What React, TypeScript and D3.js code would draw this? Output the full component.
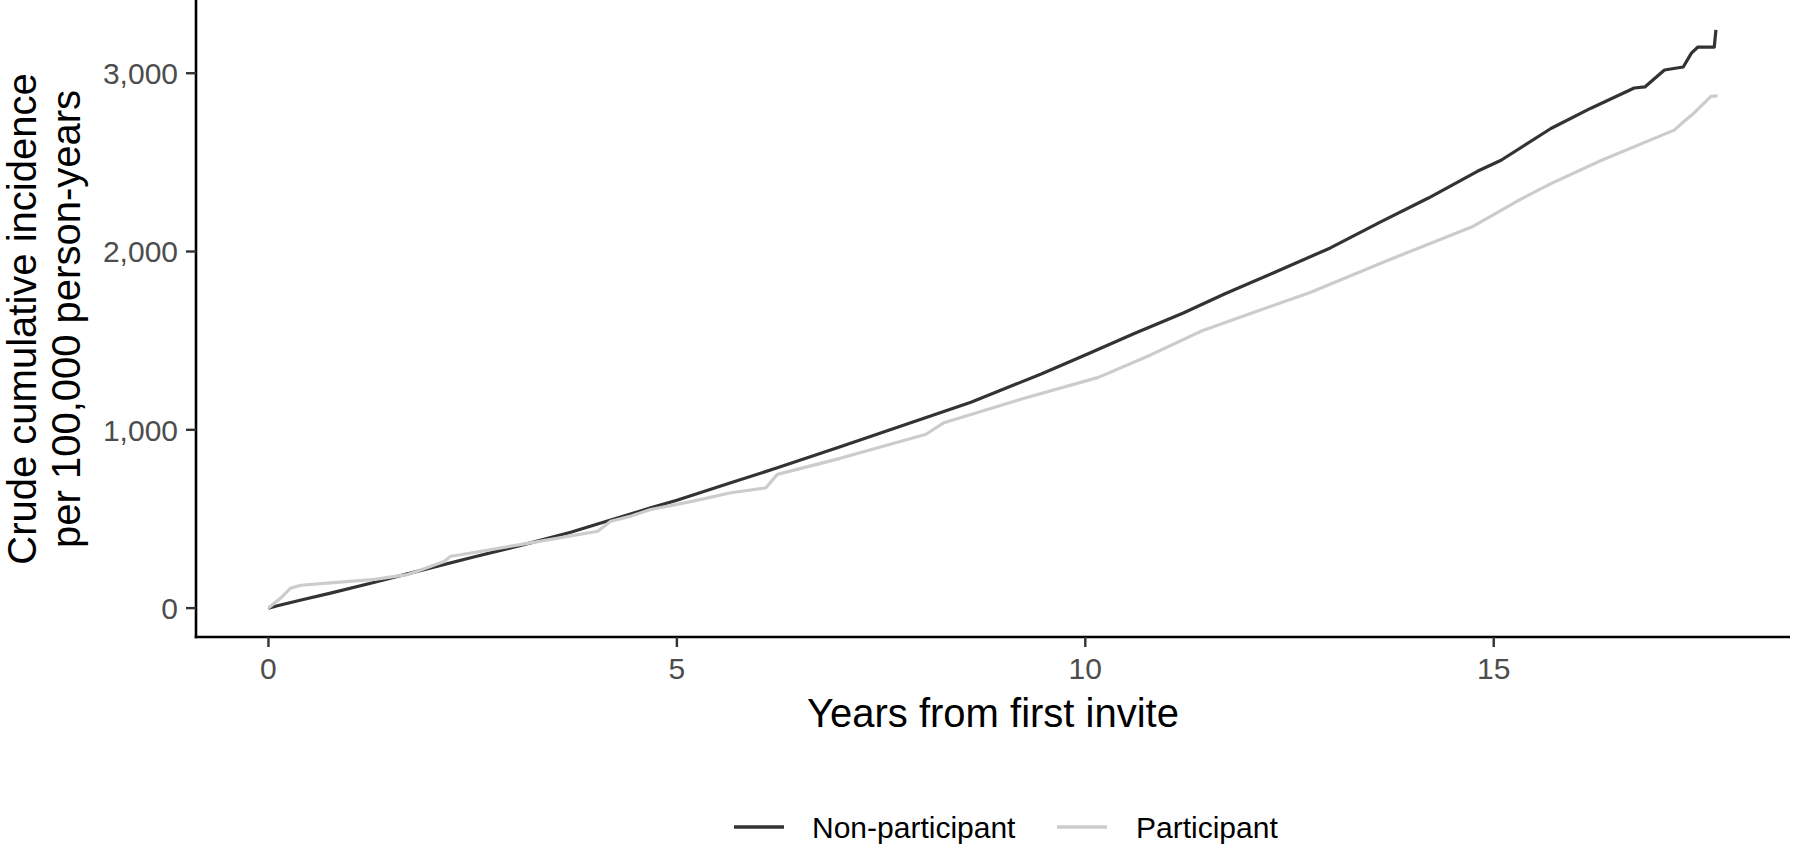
import * as d3 from "d3";

// years from first invite / crude cumulative incidence per 100,000 person-years
const nonParticipantYears = [
  0, 0.11, 0.4, 0.76, 1.3, 1.82, 2.5, 3.21, 3.7, 4.15, 4.68, 5.0, 5.66, 6.23, 7.0, 7.8, 8.6, 9.46,
  10.0, 10.6, 11.2, 11.71, 12.3, 13.0, 13.61, 14.2, 14.8, 15.09, 15.7, 16.19, 16.72, 16.85, 17.09,
  17.32, 17.42, 17.5, 17.7, 17.72,
];
const nonParticipantValues = [
  0, 13, 45, 84, 145, 206, 285, 366, 425, 488, 562, 605, 703, 787, 905, 1030, 1155, 1313, 1420,
  1540, 1655, 1763, 1880, 2020, 2165, 2300, 2450, 2512, 2690, 2804, 2917, 2923, 3018, 3035, 3113,
  3147, 3147, 3243,
];

const participantYears = [
  0, 0.15, 0.27, 0.4, 0.76, 1.3, 1.7, 1.82, 2.15, 2.23, 2.39, 3.21, 4.03, 4.19, 4.44, 4.68, 5.2,
  5.66, 6.09, 6.23, 7.0, 8.05, 8.27, 9.2, 10.16, 10.8, 11.43, 12.1, 12.76, 13.7, 14.73, 15.3, 15.7,
  16.32, 17.21, 17.32, 17.45, 17.66, 17.74,
];
const participantValues = [
  0, 56, 112, 128, 141, 161, 188, 206, 262, 291, 302, 366, 431, 487, 516, 553, 600, 647, 675, 750,
  840, 975, 1040, 1170, 1294, 1420, 1556, 1665, 1772, 1950, 2137, 2286, 2381, 2512, 2681, 2726,
  2776, 2870, 2873,
];

const seriesNames = ["Non-participant", "Participant"];
const seriesColors = ["#333333", "#CCCCCC"];
const xTicks = [0, 5, 10, 15];
const yTicks = [0, 1000, 2000, 3000];

const W = 1800;
const H = 853;
const panel = { left: 196, right: 1790, top: 1, bottom: 637 };
const font = "'Liberation Sans', Arial, Helvetica, sans-serif";

type Pt = { t: number; v: number };

const series: Pt[][] = [
  nonParticipantYears.map((t, i) => ({ t, v: nonParticipantValues[i] })),
  participantYears.map((t, i) => ({ t, v: participantValues[i] })),
];

// ggplot-style 5% expansion
const expand = (lo: number, hi: number): [number, number] => {
  const pad = (hi - lo) * 0.05;
  return [lo - pad, hi + pad];
};

export default function App() {
  const all = series.flat();
  const x = d3
    .scaleLinear()
    .domain(expand(0, d3.max(all, (d) => d.t) as number))
    .range([panel.left, panel.right]);
  const y = d3
    .scaleLinear()
    .domain(expand(0, d3.max(all, (d) => d.v) as number))
    .range([panel.bottom, panel.top]);

  const line = d3
    .line<Pt>()
    .x((d) => x(d.t))
    .y((d) => y(d.v));

  const fmt = d3.format(",");
  const midY = (panel.top + panel.bottom) / 2;
  const midX = (panel.left + panel.right) / 2;

  // legend layout
  const legend = [
    { key: 734, label: 812 },
    { key: 1057, label: 1136 },
  ];

  return (
    <svg
      width={W}
      height={H}
      style={{ position: "absolute", left: 0, top: 0, background: "#fff" }}
      fontFamily={font}
    >
      <rect width={W} height={H} fill="#fff" />

      {series.map((s, i) => (
        <path
          key={seriesNames[i]}
          d={line(s) || ""}
          fill="none"
          stroke={seriesColors[i]}
          strokeWidth={3.2}
          strokeLinejoin="round"
        />
      ))}

      {/* axes */}
      <line
        x1={panel.left}
        x2={panel.left}
        y1={0}
        y2={panel.bottom + 1.25}
        stroke="#000"
        strokeWidth={2.6}
      />
      <line
        x1={panel.left - 1.25}
        x2={panel.right}
        y1={panel.bottom}
        y2={panel.bottom}
        stroke="#000"
        strokeWidth={2.6}
      />

      {yTicks.map((t) => (
        <g key={"y" + t}>
          <line
            x1={panel.left - 10}
            x2={panel.left}
            y1={y(t)}
            y2={y(t)}
            stroke="#333"
            strokeWidth={2.4}
          />
          <text
            x={panel.left - 18}
            y={y(t)}
            dy="0.36em"
            textAnchor="end"
            fontSize={30}
            fill="#4D4D4D"
          >
            {fmt(t)}
          </text>
        </g>
      ))}

      {xTicks.map((t) => (
        <g key={"x" + t}>
          <line
            x1={x(t)}
            x2={x(t)}
            y1={panel.bottom}
            y2={panel.bottom + 10}
            stroke="#333"
            strokeWidth={2.4}
          />
          <text x={x(t)} y={679} textAnchor="middle" fontSize={30} fill="#4D4D4D">
            {t}
          </text>
        </g>
      ))}

      <text x={midX} y={727} textAnchor="middle" fontSize={40} fill="#000">
        Years from first invite
      </text>

      <g transform={`translate(0, ${midY}) rotate(-90)`}>
        <text x={0} y={36} textAnchor="middle" fontSize={40} fill="#000">
          Crude cumulative incidence
        </text>
        <text x={0} y={80} textAnchor="middle" fontSize={40} fill="#000">
          per 100,000 person-years
        </text>
      </g>

      {legend.map((l, i) => (
        <g key={seriesNames[i]}>
          <line
            x1={l.key}
            x2={l.key + 50}
            y1={827}
            y2={827}
            stroke={seriesColors[i]}
            strokeWidth={3.6}
          />
          <text x={l.label} y={838} fontSize={30} fill="#000">
            {seriesNames[i]}
          </text>
        </g>
      ))}
    </svg>
  );
}
